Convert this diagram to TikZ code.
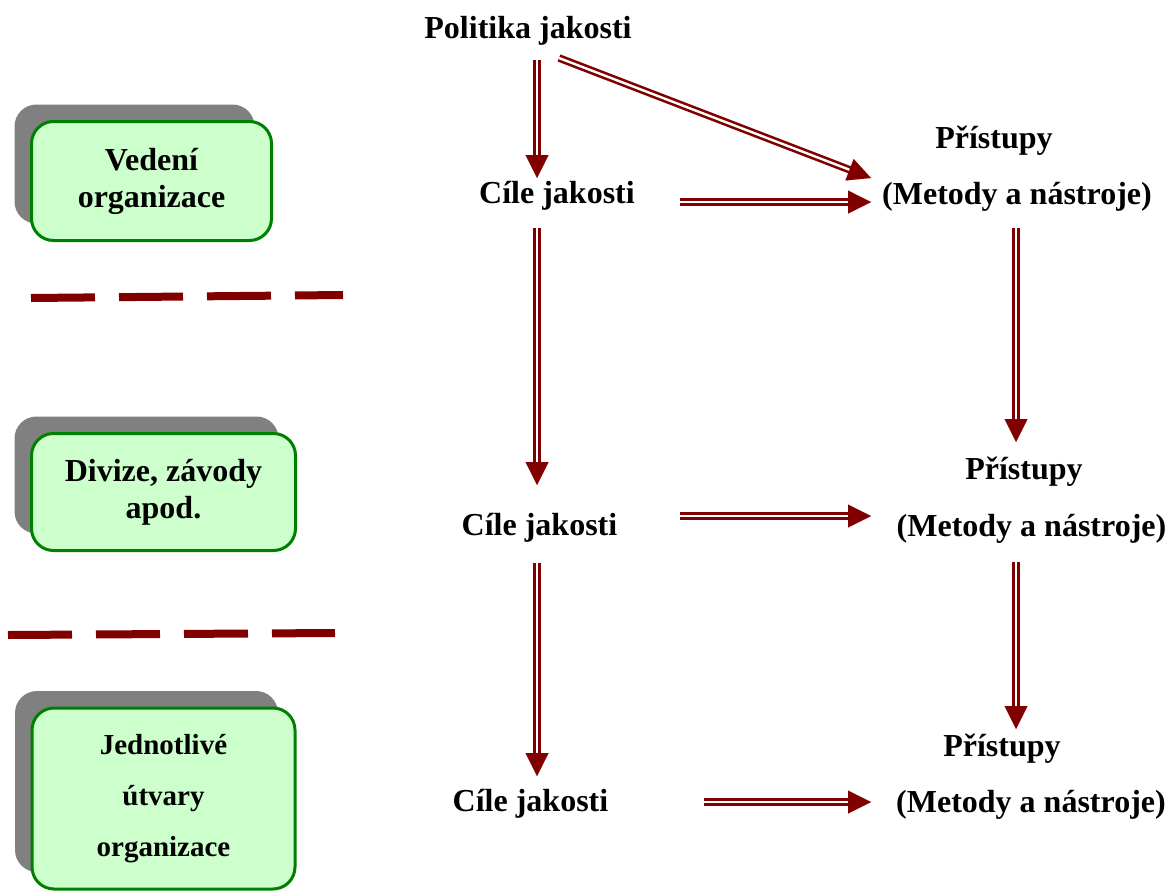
\documentclass[tikz,border=0pt]{standalone}
\usepackage{fontspec}
\setmainfont{Liberation Serif}
\usetikzlibrary{arrows.meta,calc,shadows}

\definecolor{flowred}{RGB}{128,0,0}
\definecolor{boxgreen}{RGB}{0,128,0}
\definecolor{boxfill}{RGB}{204,255,204}
\definecolor{boxshade}{RGB}{128,128,128}

% double-lined arrow with a solid triangular head
\newcommand\flowarrow[2]{%
  \draw[flowline] (#1) -- (#2);
  \draw[flowtip] ($(#2)!23pt!(#1)$) -- (#2);
}

\tikzset{
  unitbox/.style={draw=boxgreen, fill=boxfill, line width=3pt,
    rounded corners=22pt, align=center, inner sep=0pt,
    general shadow={fill=boxshade, shadow xshift=-17pt, shadow yshift=17pt}},
  term/.style={font=\bfseries\fontsize{32}{38}\selectfont, anchor=base, inner sep=0pt},
  flowline/.style={draw=flowred, line width=2.6pt, double=white,
    double distance=2.4pt, shorten >=21pt},
  flowtip/.style={draw=flowred, fill=flowred, line width=0.01pt,
    -{Triangle[length=23pt,width=23pt]}},
  divider/.style={draw=flowred, line width=8pt, dash pattern=on 64pt off 24pt},
}

\begin{document}
\begin{tikzpicture}[x=1pt, y=-1pt]
\useasboundingbox (0,0) rectangle (1171,892);

% organisational levels
\node[unitbox, minimum width=240pt, minimum height=119pt,
  font=\bfseries\fontsize{32}{37}\selectfont]
  (lvl1) at (151.5,181) {Vedení\\organizace};
\node[unitbox, minimum width=264pt, minimum height=117pt,
  font=\bfseries\fontsize{32}{37}\selectfont]
  (lvl2) at (163.5,492) {Divize, závody\\apod.};
\node[unitbox, minimum width=263pt, minimum height=181pt,
  font=\bfseries\fontsize{29}{51}\selectfont]
  (lvl3) at (163.5,798.5) {Jednotlivé\\útvary\\organizace};

% separators between the levels
\draw[divider] (31,298) -- (343,295);
\draw[divider] (8,635) -- (335,633);

% policy, objectives and approaches
\node[term] (policy) at (528,38) {Politika jakosti};
\node[term] (goal1) at (557,203) {Cíle jakosti};
\node[term] (goal2) at (539.5,535) {Cíle jakosti};
\node[term] (goal3) at (530.5,811) {Cíle jakosti};
\node[term] (appr1) at (994,148) {Přístupy};
\node[term] (tools1) at (1017,204) {(Metody a nástroje)};
\node[term] (appr2) at (1024,479) {Přístupy};
\node[term] (tools2) at (1031.5,536) {(Metody a nástroje)};
\node[term] (appr3) at (1002,756) {Přístupy};
\node[term] (tools3) at (1031,812) {(Metody a nástroje)};

% arrow end points
\coordinate (p-down) at (537,60);
\coordinate (p-diag) at (559,58);
\coordinate (g1-in) at (537,178);
\coordinate (g1-out) at (680,202);
\coordinate (g1-down) at (537,228);
\coordinate (t1-in) at (871,202);
\coordinate (t1-diag) at (871,178);
\coordinate (t1-down) at (1016,228);
\coordinate (a2-in) at (1016,442);
\coordinate (g2-in) at (537,485);
\coordinate (g2-out) at (680,516);
\coordinate (g2-down) at (537,563);
\coordinate (t2-in) at (871,516);
\coordinate (t2-down) at (1016,562);
\coordinate (a3-in) at (1016,729);
\coordinate (g3-in) at (537,776);
\coordinate (g3-out) at (704,802);
\coordinate (t3-in) at (871,802);

\flowarrow{p-down}{g1-in}
\flowarrow{p-diag}{t1-diag}
\flowarrow{g1-out}{t1-in}
\flowarrow{t1-down}{a2-in}
\flowarrow{g1-down}{g2-in}
\flowarrow{g2-out}{t2-in}
\flowarrow{t2-down}{a3-in}
\flowarrow{g2-down}{g3-in}
\flowarrow{g3-out}{t3-in}
\end{tikzpicture}
\end{document}
